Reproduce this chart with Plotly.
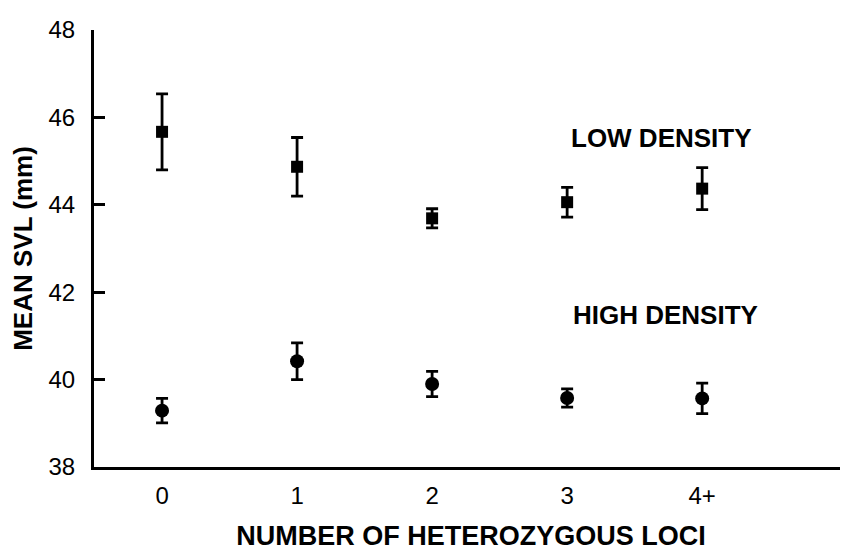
import plotly.graph_objects as go

categories = ["0", "1", "2", "3", "4+"]
x_pos = [0, 1, 2, 3, 4]
low_mean = [45.67, 44.87, 43.69, 44.06, 44.37]
low_err = [0.87, 0.67, 0.22, 0.34, 0.48]
high_mean = [39.29, 40.42, 39.90, 39.58, 39.57]
high_err = [0.28, 0.42, 0.29, 0.21, 0.35]
y_ticks = [38, 40, 42, 44, 46, 48]

font_family = "Liberation Sans, Arial, sans-serif"

fig = go.Figure()
fig.add_trace(go.Scatter(
    x=x_pos, y=low_mean, mode="markers",
    marker=dict(symbol="square", size=12, color="black"),
    error_y=dict(type="data", array=low_err, visible=True, color="black", thickness=2.8, width=6),
    showlegend=False))
fig.add_trace(go.Scatter(
    x=x_pos, y=high_mean, mode="markers",
    marker=dict(symbol="circle", size=14, color="black"),
    error_y=dict(type="data", array=high_err, visible=True, color="black", thickness=2.8, width=6),
    showlegend=False))

fig.add_annotation(x=3.70, y=45.54, text="<b>LOW DENSITY</b>", showarrow=False,
                   font=dict(family=font_family, size=26, color="black"))
fig.add_annotation(x=3.73, y=41.48, text="<b>HIGH DENSITY</b>", showarrow=False,
                   font=dict(family=font_family, size=26, color="black"))

fig.update_layout(
    width=848, height=553,
    margin=dict(l=86, r=8, t=16, b=94),
    plot_bgcolor="white", paper_bgcolor="white",
    font=dict(family=font_family, color="black"),
    xaxis=dict(
        range=[-0.504, 5.08], tickmode="array", tickvals=x_pos, ticktext=categories,
        showgrid=False, zeroline=False, showline=True, linecolor="black", linewidth=3,
        ticks="", tickfont=dict(size=24), ticklabelstandoff=5,
        title=dict(text="<b>NUMBER OF HETEROZYGOUS LOCI</b>", font=dict(size=27), standoff=19)),
    yaxis=dict(
        range=[38, 48], tickmode="array", tickvals=y_ticks,
        showgrid=False, zeroline=False, showline=True, linecolor="black", linewidth=3,
        ticks="inside", ticklen=11, tickwidth=2.5, tickcolor="black",
        tickfont=dict(size=24), ticklabelstandoff=11,
        title=dict(text="<b>MEAN SVL (mm)</b>", font=dict(size=26), standoff=10)),
)

fig.write_html("out.html")
